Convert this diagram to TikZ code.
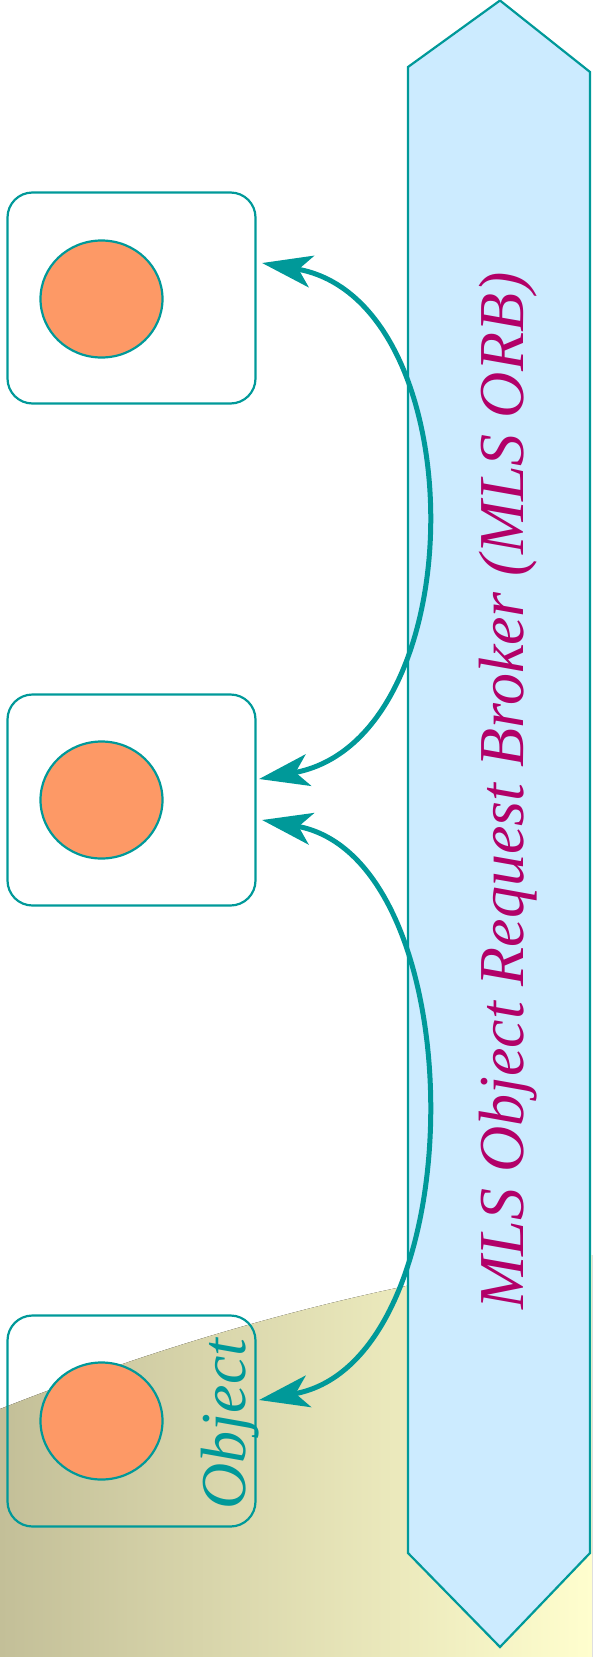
\documentclass[tikz,border=0pt]{standalone}
\usepackage{fontspec}
\setmainfont{Liberation Serif}
\usetikzlibrary{arrows.meta,shapes.geometric,calc}
\definecolor{orbteal}{RGB}{0,153,153}
\definecolor{orbblue}{RGB}{204,235,255}
\definecolor{dotorange}{RGB}{253,153,102}
\definecolor{orbmagenta}{RGB}{178,0,104}
\definecolor{bgL}{RGB}{195,191,152}
\definecolor{bgR}{RGB}{255,254,206}
\begin{document}
\begin{tikzpicture}[x=1pt,y=-1pt,
  objbox/.style={draw=orbteal, line width=2.2pt, rounded corners=25pt, minimum width=248pt, minimum height=211pt, inner sep=0pt},
  objdot/.style={ellipse, draw=orbteal, fill=dotorange, line width=2.2pt, minimum width=122pt, minimum height=117pt, inner sep=0pt},
  banner/.style={draw=orbteal, fill=orbblue, line width=2.2pt, line join=miter},
  link/.style={draw=orbteal, line width=5pt, {Stealth[length=50pt,width=32pt,inset=13pt]}-{Stealth[length=50pt,width=32pt,inset=13pt]}},
  bigtext/.style={font=\fontsize{64}{64}\selectfont\itshape, inner sep=0pt, rotate=90, anchor=base}
]
% background
\fill[left color=bgL, right color=bgR] (0,1657) -- (0,1409) .. controls (150,1350) and (350,1285) .. (592,1255) -- (592,1657) -- cycle;
% banner
\draw[banner] (500,0.5) -- (590,72) -- (590,1553) -- (500,1647) -- (408,1553) -- (408,67) -- cycle;
\node[bigtext, text=orbmagenta] (orb) at (523,791) {MLS Object Request Broker (MLS ORB)};
% object boxes
\node[objbox] (b1) at (131.5,298) {};
\node[objbox] (b2) at (131.5,800) {};
\node[objbox] (b3) at (131.5,1421) {};
\node[objdot] (d1) at (101.5,299) {};
\node[objdot] (d2) at (101.5,800) {};
\node[objdot] (d3) at (101.5,1421) {};
\node[bigtext, text=orbteal] (objlabel) at (245,1424) {Object};
% connectors
\coordinate (a1) at ([xshift=5.5pt,yshift=35pt]b1.east);
\coordinate (a2) at ([xshift=2.5pt,yshift=21pt]b2.east);
\coordinate (c1) at ([xshift=5.5pt,yshift=-20pt]b2.east);
\coordinate (c2) at ([xshift=2.5pt,yshift=21pt]b3.east);
\draw[link] (a1) .. controls (476,300) and (476,740) .. (a2);
\draw[link] (c1) .. controls (476,858) and (476,1362) .. (c2);
\pgfresetboundingbox
\useasboundingbox (0,0) rectangle (592,1657);
\end{tikzpicture}
\end{document}
